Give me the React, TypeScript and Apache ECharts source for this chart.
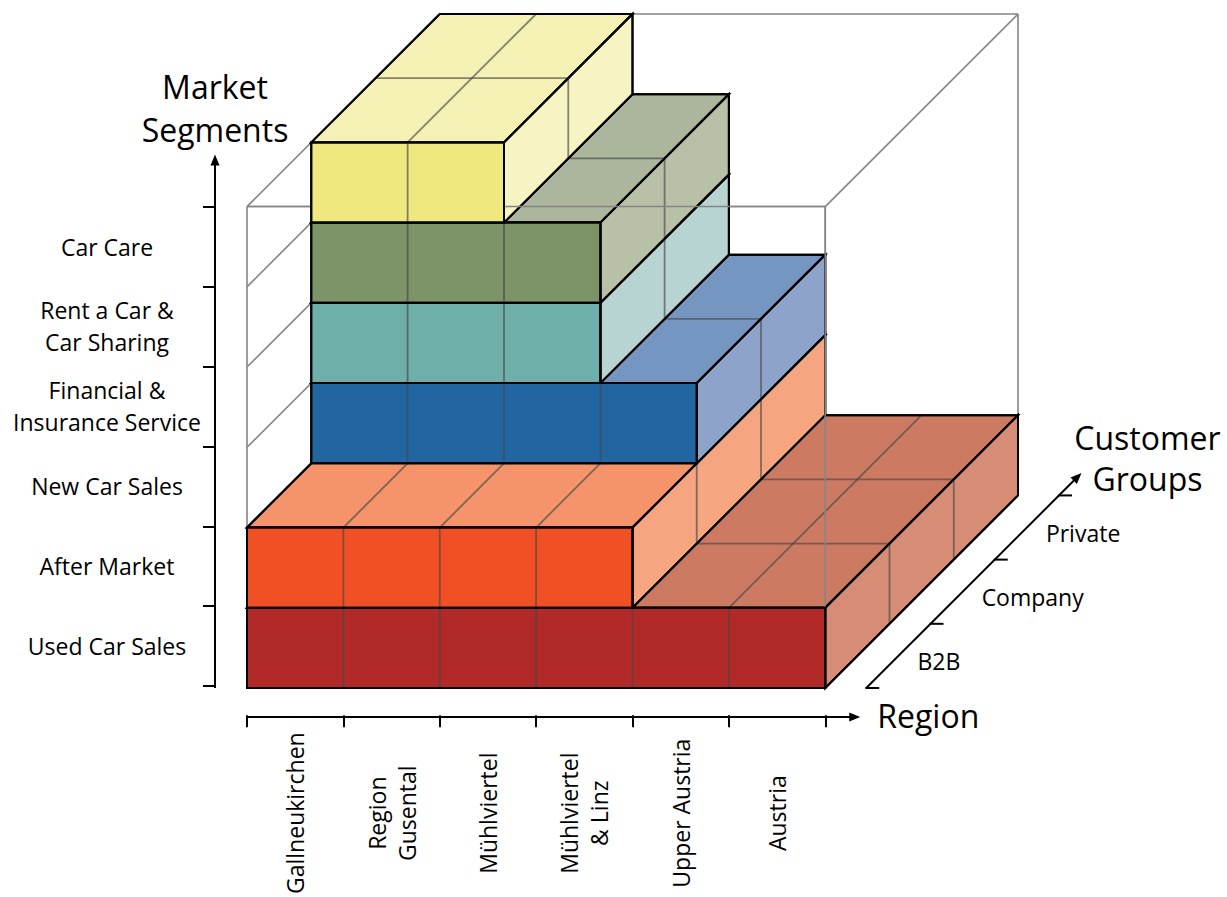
import React, { useEffect, useRef } from "react";
import * as echarts from "echarts";

// ---------- data ----------
const segments = [
  "Used Car Sales",
  "After Market",
  "New Car Sales",
  "Financial &\nInsurance Service",
  "Rent a Car &\nCar Sharing",
  "Car Care",
];
const regions = [
  "Gallneukirchen",
  "Region\nGusental",
  "Mühlviertel",
  "Mühlviertel\n& Linz",
  "Upper Austria",
  "Austria",
];
const customerGroups = ["B2B", "Company", "Private"];
// number of regions covered by each segment (counted from Gallneukirchen)
const regionCoverage = [6, 4, 4, 3, 3, 2];
// customer-group range covered by each segment: [start, end)
const groupStart = [0, 0, 1, 1, 1, 1];
const groupEnd = [3, 3, 3, 3, 3, 3];

// ---------- styles ----------
const frontColors = ["#b22a27", "#f05024", "#2166a0", "#6fafa9", "#7d9468", "#efe87f"];
const topColors = ["#cd7a63", "#f5936b", "#7696c2", "#a7cbc7", "#abb69c", "#f5f1b4"];
const sideColors = ["#d78c76", "#f6a581", "#8ea3c9", "#b7d4d2", "#b8c0a8", "#f7f4c3"];
const FONT = "'Open Sans', 'DejaVu Sans', sans-serif";
const WIRE = "#858585";
const CELL = "rgba(70,70,70,0.65)";
const LABEL_SIZE = 23;
const NAME_SIZE = 32;

const KX = 2 / 3; // oblique depth offset per customer group, in region units
const KY = 0.8; // oblique depth offset per customer group, in segment units
const nR = regions.length;
const nS = segments.length;
const nG = customerGroups.length;
const xMax = nR + nG * KX;
const yMax = nS + nG * KY;

const G_LEFT = 247;
const G_TOP = 14;
const G_W = 771;
const G_H = 674;
const unitY = G_H / yMax;
const unitX = G_W / xMax;

function seg(a: number[], b: number[], stroke: string, lw: number, z2: number) {
  return {
    type: "line",
    silent: true,
    z2,
    shape: { x1: a[0], y1: a[1], x2: b[0], y2: b[1] },
    style: { stroke, lineWidth: lw, lineCap: "butt" },
  };
}
function poly(pts: number[][], fill: string, z2: number) {
  return {
    type: "polygon",
    silent: true,
    z2,
    shape: { points: pts },
    style: { fill, stroke: "#000", lineWidth: 2, lineJoin: "miter" },
  };
}
function outline(pts: number[][], z2: number) {
  return {
    type: "polygon",
    silent: true,
    z2,
    shape: { points: pts },
    style: { fill: "none", stroke: "#000", lineWidth: 2 },
  };
}
function arrowHead(tip: number[], dir: number[]) {
  const L = 11;
  const W = 4.5;
  const px = -dir[1];
  const py = dir[0];
  return {
    type: "polygon",
    silent: true,
    z2: 200,
    shape: {
      points: [
        tip,
        [tip[0] - dir[0] * L + px * W, tip[1] - dir[1] * L + py * W],
        [tip[0] - dir[0] * L - px * W, tip[1] - dir[1] * L - py * W],
      ],
    },
    style: { fill: "#000", stroke: "none" },
  };
}

function renderBox(params: any, api: any) {
  const i = api.value(0);
  const cov = api.value(1);
  const z0 = api.value(2);
  const z1 = api.value(3);
  const P = (x: number, y: number, z: number) => api.coord([x + z * KX, y + z * KY]);
  const y0 = i;
  const y1 = i + 1;
  const x0 = 0;
  const x1 = cov;
  const back = 10 + i * 2;
  const front = 100 + i * 2;
  const topPts = [P(x0, y1, z0), P(x1, y1, z0), P(x1, y1, z1), P(x0, y1, z1)];
  const sidePts = [P(x1, y0, z0), P(x1, y0, z1), P(x1, y1, z1), P(x1, y1, z0)];
  const frontPts = [P(x0, y0, z0), P(x1, y0, z0), P(x1, y1, z0), P(x0, y1, z0)];
  const ch: any[] = [];
  ch.push(poly(topPts, topColors[i], back));
  ch.push(poly(sidePts, sideColors[i], back));
  for (let r = x0 + 1; r < x1; r++) ch.push(seg(P(r, y1, z0), P(r, y1, z1), CELL, 1.8, back + 1));
  for (let d = z0 + 1; d < z1; d++) {
    ch.push(seg(P(x0, y1, d), P(x1, y1, d), CELL, 1.8, back + 1));
    ch.push(seg(P(x1, y0, d), P(x1, y1, d), CELL, 1.8, back + 1));
  }
  ch.push(outline(topPts, back + 1));
  ch.push(outline(sidePts, back + 1));
  ch.push(poly(frontPts, frontColors[i], front));
  for (let r = x0 + 1; r < x1; r++) ch.push(seg(P(r, y0, z0), P(r, y1, z0), CELL, 1.8, front + 1));
  ch.push(outline(frontPts, front + 1));
  return { type: "group", children: ch };
}

function renderWire(params: any, api: any) {
  const P = (x: number, y: number, z: number) => api.coord([x + z * KX, y + z * KY]);
  const ch: any[] = [];
  const corners = [
    [0, 0],
    [nR, 0],
    [nR, nS],
    [0, nS],
  ];
  for (let k = 0; k < 4; k++) {
    const a = corners[k];
    const b = corners[(k + 1) % 4];
    ch.push(seg(P(a[0], a[1], 0), P(b[0], b[1], 0), WIRE, 1.6, 0));
    ch.push(seg(P(a[0], a[1], nG), P(b[0], b[1], nG), WIRE, 1.6, 0));
    ch.push(seg(P(a[0], a[1], 0), P(a[0], a[1], nG), WIRE, 1.6, 0));
  }
  for (let y = 1; y < nS; y++) ch.push(seg(P(0, y, 0), P(0, y, nG), WIRE, 1.6, 0));
  // front edges of the frame seen through the tops/sides
  ch.push(seg(P(0, nS, 0), P(nR, nS, 0), WIRE, 1.6, 50));
  ch.push(seg(P(nR, 0, 0), P(nR, nS, 0), WIRE, 1.6, 50));
  return { type: "group", children: ch };
}

function renderAxes(params: any, api: any) {
  const o = api.coord([0, 0]);
  const top = api.coord([0, nS]);
  const right = api.coord([nR, 0]);
  const d1 = api.coord([KX, KY]);
  const dv = [d1[0] - o[0], d1[1] - o[1]];
  const dl = Math.hypot(dv[0], dv[1]);
  const du = [dv[0] / dl, dv[1] / dl];
  const ch: any[] = [];
  // vertical (segments) axis
  const lx = o[0] - 32;
  const ltip = [lx, top[1] - 52];
  ch.push(seg([lx, o[1]], [lx, ltip[1] + 9], "#000", 2, 200));
  ch.push(arrowHead(ltip, [0, -1]));
  // horizontal (region) axis
  const by = o[1] + 29;
  const btip = [right[0] + 35, by];
  ch.push(seg([o[0] - 1, by], [btip[0] - 9, by], "#000", 2, 200));
  ch.push(arrowHead(btip, [1, 0]));
  // depth (customer groups) axis
  const s = [right[0] + 41, o[1]];
  const ext = nG + 0.35;
  const dtip = [s[0] + dv[0] * ext, s[1] + dv[1] * ext];
  ch.push(seg(s, [dtip[0] - du[0] * 9, dtip[1] - du[1] * 9], "#000", 2, 200));
  ch.push(arrowHead(dtip, du));
  for (let d = 0; d <= nG; d++) {
    const p = [s[0] + dv[0] * d, s[1] + dv[1] * d];
    ch.push(seg([p[0] - 1, p[1]], [p[0] + 13, p[1]], "#000", 2, 200));
  }
  customerGroups.forEach((g, k) => {
    const p = [s[0] + dv[0] * (k + 0.5), s[1] + dv[1] * (k + 0.5)];
    ch.push({
      type: "text",
      silent: true,
      z2: 200,
      style: {
        text: g,
        x: p[0] + 19,
        y: p[1] + 5,
        align: "left",
        verticalAlign: "middle",
        fontSize: LABEL_SIZE,
        fontFamily: FONT,
        fill: "#000",
      },
    });
  });
  ch.push({
    type: "text",
    silent: true,
    z2: 200,
    style: {
      text: "Customer\nGroups",
      x: dtip[0] + 66,
      y: dtip[1] - 15,
      align: "center",
      verticalAlign: "middle",
      fontSize: NAME_SIZE,
      lineHeight: 41,
      fontFamily: FONT,
      fill: "#000",
    },
  });
  return { type: "group", children: ch };
}

export default function App() {
  const ref = useRef<HTMLDivElement>(null);
  useEffect(() => {
    document.body.style.margin = "0";
    const chart = echarts.init(ref.current!, null, { renderer: "svg" });
    const g1H = nS * unitY;
    const g1Top = G_TOP + G_H - g1H;
    const option: any = {
      animation: false,
      backgroundColor: "#fff",
      textStyle: { fontFamily: FONT },
      grid: [
        { left: G_LEFT, top: G_TOP, width: G_W, height: G_H, containLabel: false },
        { left: G_LEFT, top: g1Top, width: nR * unitX, height: g1H, containLabel: false },
      ],
      xAxis: [
        { type: "value", gridIndex: 0, min: 0, max: xMax, show: false },
        {
          type: "category",
          gridIndex: 1,
          data: regions,
          position: "bottom",
          offset: 29,
          boundaryGap: true,
          axisLine: { show: false },
          axisTick: { show: true, length: 12, interval: 0, lineStyle: { color: "#000", width: 2 } },
          axisLabel: {
            interval: 0,
            rotate: 90,
            margin: 98,
            align: "center",
            verticalAlign: "middle",
            fontSize: LABEL_SIZE,
            lineHeight: 30,
            color: "#000",
            fontFamily: FONT,
          },
          splitLine: { show: false },
          name: "Region",
          nameLocation: "end",
          nameGap: 52,
          nameTextStyle: {
            fontSize: NAME_SIZE,
            color: "#000",
            fontFamily: FONT,
            align: "left",
            verticalAlign: "middle",
          },
        },
      ],
      yAxis: [
        { type: "value", gridIndex: 0, min: 0, max: yMax, show: false },
        {
          type: "category",
          gridIndex: 1,
          data: segments,
          position: "left",
          offset: 32,
          boundaryGap: true,
          axisLine: { show: false },
          axisTick: { show: true, length: 12, interval: 0, lineStyle: { color: "#000", width: 2 } },
          axisLabel: {
            interval: 0,
            margin: 108,
            align: "center",
            fontSize: LABEL_SIZE,
            lineHeight: 32,
            color: "#000",
            fontFamily: FONT,
          },
          splitLine: { show: false },
          name: "Market\nSegments",
          nameLocation: "end",
          nameGap: 56,
          nameTextStyle: {
            fontSize: NAME_SIZE,
            lineHeight: 43,
            color: "#000",
            fontFamily: FONT,
            align: "center",
            verticalAlign: "bottom",
          },
        },
      ],
      series: [
        {
          type: "custom",
          name: "frame",
          xAxisIndex: 0,
          yAxisIndex: 0,
          silent: true,
          data: [[0, 0]],
          renderItem: renderWire,
        },
        {
          type: "custom",
          name: "segments",
          xAxisIndex: 0,
          yAxisIndex: 0,
          silent: true,
          data: segments.map((_, i) => [i, regionCoverage[i], groupStart[i], groupEnd[i]]),
          renderItem: renderBox,
        },
        {
          type: "custom",
          name: "axes",
          xAxisIndex: 0,
          yAxisIndex: 0,
          silent: true,
          data: [[0, 0]],
          renderItem: renderAxes,
        },
      ],
    };
    chart.setOption(option);
    return () => chart.dispose();
  }, []);
  return <div ref={ref} style={{ width: 1227, height: 897 }} />;
}
